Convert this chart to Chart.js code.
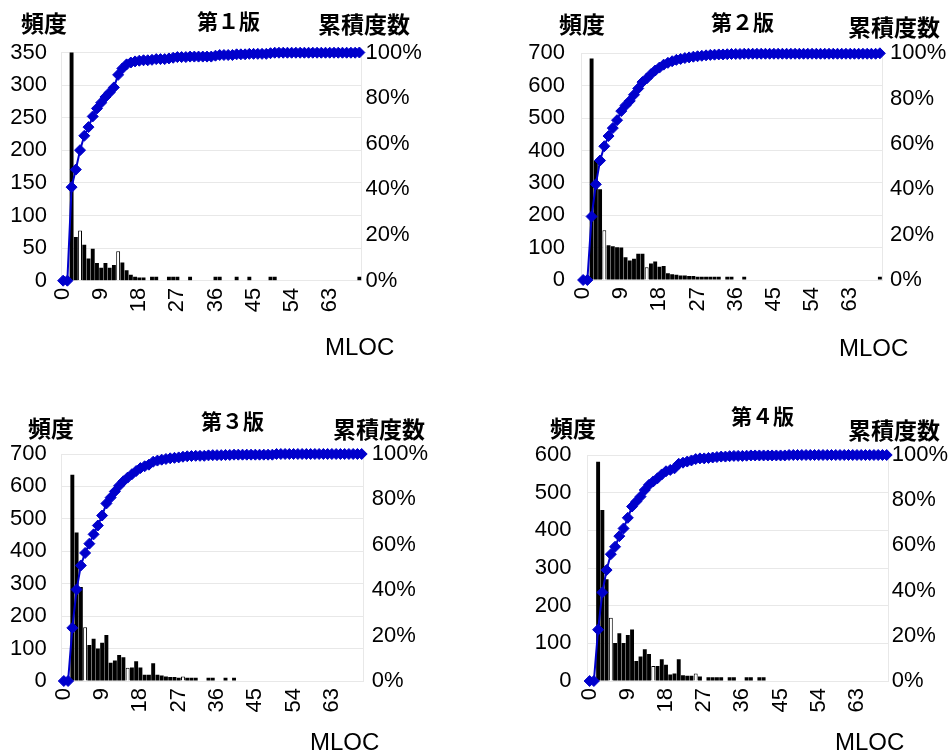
<!DOCTYPE html>
<html>
<head>
<meta charset="utf-8">
<script src="https://cdn.jsdelivr.net/npm/chart.js@4.4.1/dist/chart.umd.min.js"></script>
<style>
  html, body { margin: 0; padding: 0; background: #fff; }
  #wrap { position: relative; width: 951px; height: 756px; overflow: hidden; }
  canvas { position: absolute; left: 0; top: 0; }
  .lbl { position: absolute; white-space: nowrap; line-height: 1; transform: translateY(-50%); color: #000; }
  .cjk { font-family: "Noto Sans CJK JP", sans-serif; font-size: 23px; font-weight: bold; }
  .ttl { font-family: "Noto Sans CJK JP", sans-serif; font-size: 21px; font-weight: bold; }
  .lat { font-family: "Liberation Sans", Arial, sans-serif; font-size: 24px; }
</style>
</head>
<body>
<div id="wrap">
  <canvas id="c1" width="951" height="756"></canvas>
  <canvas id="c2" width="951" height="756"></canvas>
  <canvas id="c3" width="951" height="756"></canvas>
  <canvas id="c4" width="951" height="756"></canvas>

  <div class="lbl cjk" style="left:21px; top:22px">頻度</div>
  <div class="lbl ttl" style="left:197px; top:20px">第１版</div>
  <div class="lbl cjk" style="left:318px; top:23px">累積度数</div>
  <div class="lbl lat" style="left:325px; top:347px">MLOC</div>

  <div class="lbl cjk" style="left:559px; top:23px">頻度</div>
  <div class="lbl ttl" style="left:711px; top:21px">第２版</div>
  <div class="lbl cjk" style="left:848px; top:26px">累積度数</div>
  <div class="lbl lat" style="left:839px; top:348px">MLOC</div>

  <div class="lbl cjk" style="left:28px; top:427px">頻度</div>
  <div class="lbl ttl" style="left:201px; top:420px">第３版</div>
  <div class="lbl cjk" style="left:333px; top:428px">累積度数</div>
  <div class="lbl lat" style="left:310px; top:742px">MLOC</div>

  <div class="lbl cjk" style="left:550px; top:427px">頻度</div>
  <div class="lbl ttl" style="left:731px; top:415px">第４版</div>
  <div class="lbl cjk" style="left:848px; top:429px">累積度数</div>
  <div class="lbl lat" style="left:835px; top:742px">MLOC</div>
</div>
<script>
// MLOC categories and the labelled ones
const categories = [0,1,2,3,4,5,6,7,8,9,10,11,12,13,14,15,16,17,18,19,
  20,21,22,23,24,25,26,27,28,29,30,31,32,33,34,35,36,37,38,39,
  40,41,42,43,44,45,46,47,48,49,50,51,52,53,54,55,56,57,58,59,
  60,61,62,63,64,65,66,67,68,69,70];
const xTickLabels = [0, 9, 18, 27, 36, 45, 54, 63];

// frequency (頻度)
const freq1 = [0,0,352,67,77,55,34,49,27,20,27,20,24,45,28,16,9,6,5,5,
  0,6,6,0,0,6,6,6,0,0,6,0,0,0,0,0,6,6,0,0,
  0,6,0,0,6,0,0,0,0,6,6,0,0,0,0,0,0,0,0,0,
  0,0,0,0,0,0,0,0,0,0,6];
const freq2 = [0,0,684,368,280,154,107,104,101,100,70,60,66,81,81,39,51,57,41,43,
  21,18,16,14,14,12,12,10,10,10,10,10,10,0,10,10,0,0,10,0,
  0,0,0,0,0,0,0,0,0,0,0,0,0,0,0,0,0,0,0,0,
  0,0,0,0,0,0,0,0,0,0,10];
const freq3 = [0,0,636,458,290,166,111,130,100,118,142,56,63,80,73,41,42,61,42,19,
  19,55,19,17,14,12,12,10,14,10,10,10,0,0,10,10,0,0,10,0,
  10,0,0,0,0,0,0,0,0,0,0,0,0,0,0,0,0,0,0,0,
  0,0,0,0,0,0,0,0,0,0,0];
const freq4 = [0,0,582,454,270,168,101,127,101,122,137,53,65,84,72,40,40,58,43,17,
  20,58,15,14,14,20,12,0,10,10,10,10,0,10,10,0,0,10,10,0,
  10,10,0,0,0,0,0,0,0,0,0,0,0,0,0,0,0,0,0,0,
  0,0,0,0,0,0,0,0,0,0,0];

// cumulative share in % (累積度数)
const cum1 = [0,0,41,48.7,57.2,63.5,67.3,72,75.5,78,80.5,82.5,84.7,90.2,93,94.8,95.6,96.1,96.4,96.6,
  96.6,96.8,97.1,97.1,97.1,97.4,97.7,98,98,98,98.2,98.2,98.2,98.2,98.2,98.2,98.6,98.9,98.9,98.9,
  98.9,99.2,99.2,99.2,99.4,99.4,99.4,99.4,99.4,99.7,99.9,99.9,99.9,99.9,99.9,99.9,99.9,99.9,99.9,99.9,
  99.9,99.9,99.9,99.9,99.9,99.9,99.9,99.9,99.9,99.9,100];
const cum2 = [0,0,28,42.2,52.7,59,63.5,67,70.5,74.5,77,79,81.7,84.5,87.3,88.9,90.8,92.4,93.7,95,
  95.8,96.5,97.1,97.5,97.9,98.2,98.5,98.7,98.9,99.1,99.3,99.4,99.5,99.5,99.6,99.7,99.7,99.7,99.8,99.8,
  99.8,99.8,99.8,99.8,99.8,99.8,99.8,99.8,99.8,99.8,99.8,99.8,99.8,99.8,99.8,99.8,99.8,99.8,99.8,99.8,
  99.8,99.8,99.8,99.8,99.8,99.8,99.8,99.8,99.8,99.8,100];
const cum3 = [0,0,23.4,40.3,50.9,56.4,60.5,64.6,68.5,72.9,78.2,80.8,83.5,86,88,89.6,91.1,92.5,93.8,94.6,
  95.3,96.6,97.1,97.5,97.8,98.1,98.3,98.5,98.8,99,99.1,99.2,99.2,99.2,99.4,99.5,99.5,99.5,99.6,99.6,
  99.7,99.7,99.7,99.7,99.7,99.7,99.7,99.7,99.7,99.7,100,100,100,100,100,100,100,100,100,100,
  100,100,100,100,100,100,100,100,100,100,100];
const cum4 = [0,0,22.7,39.2,49.1,56.1,59.4,64.1,67.5,72.2,77.2,79.4,81.6,84.5,86.8,88.3,89.7,91.4,92.8,93.4,
  94.1,96.1,96.6,97.1,97.6,98.2,98.5,98.5,98.7,98.9,99.1,99.3,99.3,99.5,99.6,99.6,99.6,99.7,99.8,99.8,
  99.8,99.8,99.8,99.8,99.8,99.8,99.8,100,100,100,100,100,100,100,100,100,100,100,100,100,
  100,100,100,100,100,100,100,100,100,100,100];

// bars that show up hollow in the original
const hollow1 = [4, 13];
const hollow2 = [5, 15];
const hollow3 = [5, 15, 28];
const hollow4 = [5, 15, 25];

Chart.defaults.font.family = '"Liberation Sans", Arial, sans-serif';
Chart.defaults.font.size = 22;
Chart.defaults.color = '#000';

const W = 951, H = 756;
const LEFT_W = 60, RIGHT_W = 70, X_H = 60;
const BLUE = '#0000cc';
const faint = '#e8e8e8';

function makePanel(id, freq, cum, hollow, yMax, yStep, area, padL, padR) {
  const ctx = document.getElementById(id).getContext('2d');
  new Chart(ctx, {
    type: 'bar',
    data: {
      labels: categories,
      datasets: [{
        type: 'line',
        data: cum,
        yAxisID: 'y1',
        borderColor: BLUE,
        borderWidth: 2,
        backgroundColor: BLUE,
        pointStyle: 'rectRot',
        pointRadius: 5.5,
        pointBorderWidth: 1,
        pointBackgroundColor: BLUE,
        pointBorderColor: BLUE,
        tension: 0,
        clip: false,
        order: 0
      }, {
        data: freq,
        yAxisID: 'y',
        backgroundColor: (c) => hollow.includes(c.dataIndex) ? '#fff' : '#000',
        borderColor: '#000',
        borderWidth: (c) => hollow.includes(c.dataIndex) ? 1 : 0,
        barPercentage: 0.92,
        categoryPercentage: 1,
        order: 1
      }]
    },
    options: {
      responsive: false,
      animation: false,
      layout: {
        padding: {
          left: area.l - LEFT_W,
          right: W - area.r - RIGHT_W,
          top: area.t,
          bottom: H - area.b - X_H
        }
      },
      plugins: { legend: { display: false }, tooltip: { enabled: false } },
      scales: {
        x: {
          offset: true,
          grid: { display: false, drawTicks: false },
          border: { display: true, color: faint },
          ticks: {
            autoSkip: false,
            minRotation: 90,
            maxRotation: 90,
            padding: 7,
            callback: (v, i) => xTickLabels.includes(categories[i]) ? String(categories[i]) : ''
          },
          afterFit: (s) => { s.height = X_H; }
        },
        y: {
          position: 'left',
          min: 0,
          max: yMax,
          ticks: { stepSize: yStep, padding: padL },
          grid: { color: faint, drawTicks: false },
          border: { display: true, color: faint },
          afterFit: (s) => { s.width = LEFT_W; }
        },
        y1: {
          position: 'right',
          min: 0,
          max: 100,
          ticks: { stepSize: 20, padding: padR, callback: (v) => v + '%' },
          grid: { display: false, drawTicks: false },
          border: { display: true, color: faint },
          afterFit: (s) => { s.width = RIGHT_W; }
        }
      }
    }
  });
}

makePanel('c1', freq1, cum1, hollow1, 350, 50, { l: 61, r: 361.5, t: 52.5, b: 280.7 }, 14, 4);
makePanel('c2', freq2, cum2, hollow2, 700, 100, { l: 581, r: 882, t: 53.3, b: 280 }, 16, 8);
makePanel('c3', freq3, cum3, hollow3, 700, 100, { l: 61.7, r: 363.8, t: 454, b: 681 }, 15, 8);
makePanel('c4', freq4, cum4, hollow4, 600, 100, { l: 587.5, r: 888.8, t: 455, b: 681 }, 16, 3);
</script>
</body>
</html>
